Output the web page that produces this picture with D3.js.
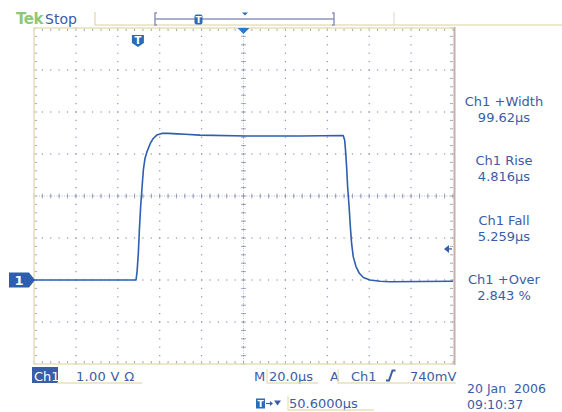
<!DOCTYPE html>
<html>
<head>
<meta charset="utf-8">
<script src="https://cdn.jsdelivr.net/npm/d3@7"></script>
<style>
  body { margin: 0; background: #fff; }
  text { font-family: "DejaVu Sans", sans-serif; }
</style>
</head>
<body>
<div id="scope"></div>
<script>
// trace: time in us from the left edge, volts on Ch1
var timeUs = [0, 48.7, 49.2, 49.8, 50.3, 50.9, 51.6, 52.2, 53.0, 53.9, 55.4, 56.9, 58.6,
  61.0, 64.1, 68.3, 72.1, 79.2, 101.7, 127.0, 147.6, 148.3, 148.8, 149.3, 149.7, 150.4,
  151.0, 151.6, 152.4, 153.7, 155.3, 157.2, 160.4, 165.2, 169.9, 200];
var voltsV = [0, 0, 0.20, 0.64, 1.19, 1.75, 2.22, 2.62, 2.90, 3.05, 3.24, 3.37, 3.45,
  3.49, 3.49, 3.48, 3.47, 3.45, 3.43, 3.43, 3.44, 3.33, 3.02, 2.62, 2.22, 1.75,
  1.27, 0.87, 0.55, 0.32, 0.16, 0.06, 0, -0.03, -0.04, -0.03];

var measNames = ["Ch1 +Width", "Ch1 Rise", "Ch1 Fall", "Ch1 +Over"];
var measValues = ["99.62\u00b5s", "4.816\u00b5s", "5.259\u00b5s", "2.843 %"];

var timeDiv = 20;      // us per division
var voltDiv = 1;       // V per division
var trigLevel = 0.74;  // V
var trigTime = 49.6;   // us

var W = 562, H = 412;
var blue = "#3b5ca6", trace = "#2d5eb0", beige = "#e9e1b9", dot = "#8a92b4";

var svg = d3.select("#scope").append("svg")
  .attr("width", W).attr("height", H);

var x = d3.scaleLinear().domain([0, 10 * timeDiv]).range([34, 453]);
var y = d3.scaleLinear().domain([-2 * voltDiv, 6 * voltDiv]).range([364, 28]);

var majX = d3.range(0, 10 * timeDiv + 0.01, timeDiv);
var majY = d3.range(-2, 6.01, voltDiv);
var minX = d3.range(0, 10 * timeDiv + 0.01, timeDiv / 5);
var minY = d3.range(-2, 6.01, voltDiv / 5);
var cx = 5 * timeDiv, cy = 2;

var grid = svg.append("g");

// dotted grid lines
majX.slice(1, -1).forEach(function (t) {
  grid.selectAll(null).data(minY).enter().append("rect")
    .attr("x", x(t) - 0.6).attr("y", function (v) { return y(v) - 0.6; })
    .attr("width", 1.2).attr("height", 1.2).attr("fill", dot);
});
majY.slice(1, -1).forEach(function (v) {
  grid.selectAll(null).data(minX).enter().append("rect")
    .attr("x", function (t) { return x(t) - 0.6; }).attr("y", y(v) - 0.6)
    .attr("width", 1.2).attr("height", 1.2).attr("fill", dot);
});

// centre cross with minor ticks
grid.selectAll(null).data(minY).enter().append("line")
  .attr("x1", x(cx) - 2.5).attr("x2", x(cx) + 2.5)
  .attr("y1", function (v) { return y(v); }).attr("y2", function (v) { return y(v); })
  .attr("stroke", dot).attr("stroke-width", 0.8);
grid.selectAll(null).data(minX).enter().append("line")
  .attr("y1", y(cy) - 2.5).attr("y2", y(cy) + 2.5)
  .attr("x1", function (t) { return x(t); }).attr("x2", function (t) { return x(t); })
  .attr("stroke", dot).attr("stroke-width", 0.8);
grid.append("line").attr("x1", x(cx)).attr("x2", x(cx)).attr("y1", y(6)).attr("y2", y(-2))
  .attr("stroke", dot).attr("stroke-width", 0.6).attr("stroke-dasharray", "1,1.5");
grid.append("line").attr("y1", y(cy)).attr("y2", y(cy)).attr("x1", x(0)).attr("x2", x(200))
  .attr("stroke", dot).attr("stroke-width", 0.6).attr("stroke-dasharray", "1,1.5");

// border ticks
[y(6), y(-2)].forEach(function (yy, i) {
  var d = i === 0 ? 1 : -1;
  grid.selectAll(null).data(minX).enter().append("line")
    .attr("x1", function (t) { return x(t); }).attr("x2", function (t) { return x(t); })
    .attr("y1", yy).attr("y2", yy + d * 3)
    .attr("stroke", dot).attr("stroke-width", 0.8);
});
[x(0), x(200)].forEach(function (xx, i) {
  var d = i === 0 ? 1 : -1;
  grid.selectAll(null).data(minY).enter().append("line")
    .attr("y1", function (v) { return y(v); }).attr("y2", function (v) { return y(v); })
    .attr("x1", xx).attr("x2", xx + d * 3)
    .attr("stroke", dot).attr("stroke-width", 0.8);
});

// frame
grid.append("path")
  .attr("d", "M" + x(200) + "," + y(6) + "H" + x(0) + "V" + y(-2) + "H" + x(200))
  .attr("fill", "none").attr("stroke", beige).attr("stroke-width", 1.6);
grid.append("line").attr("x1", x(200) + 1.5).attr("x2", x(200) + 1.5)
  .attr("y1", y(6) - 1).attr("y2", y(-2) + 1)
  .attr("stroke", "#c9aea6").attr("stroke-width", 2);

// waveform
var line = d3.line()
  .x(function (d, i) { return x(timeUs[i]); })
  .y(function (d) { return y(d); });
svg.append("path").datum(voltsV)
  .attr("d", line).attr("fill", "none")
  .attr("stroke", trace).attr("stroke-width", 1.6).attr("stroke-linejoin", "round");

// header
svg.append("text").attr("x", 16).attr("y", 24).attr("font-size", 15).attr("font-weight", "bold")
  .attr("fill", "#8dc878").attr("letter-spacing", -0.5).text("Tek");
svg.append("text").attr("x", 45).attr("y", 24).attr("font-size", 14)
  .attr("fill", blue).text("Stop");
svg.append("path").attr("d", "M95,12V25H562").attr("fill", "none")
  .attr("stroke", beige).attr("stroke-width", 1.5);
svg.append("line").attr("x1", 394).attr("x2", 394).attr("y1", 12).attr("y2", 25)
  .attr("stroke", "#e3d3c8").attr("stroke-width", 1);
svg.append("path").attr("d", "M157,13H155V25H157M155,19H334M332,13H334V25H332")
  .attr("fill", "none").attr("stroke", "#8c96ba").attr("stroke-width", 1.5);
svg.append("rect").attr("x", 194.5).attr("y", 14.5).attr("width", 8).attr("height", 10)
  .attr("rx", 2).attr("fill", "#2b6cb8");
svg.append("text").attr("x", 198.5).attr("y", 23).attr("text-anchor", "middle")
  .attr("font-size", 9).attr("font-weight", "bold").attr("fill", "#fff").text("T");
svg.append("path").attr("d", "M242,12.5h6l-3,3z").attr("fill", "#2b6cb8");

// top marker and trigger position marker
svg.append("path").attr("d", "M" + (x(cx) - 6) + ",28h12l-6,6z").attr("fill", "#2b7cc8");
var tx = x(trigTime);
svg.append("path")
  .attr("d", "M" + (tx - 6) + ",35h12v8l-6,4l-6,-4z").attr("fill", "#2b6cb8");
svg.append("text").attr("x", tx).attr("y", 44).attr("text-anchor", "middle")
  .attr("font-size", 10).attr("font-weight", "bold").attr("fill", "#fff").text("T");

// ground marker
var gy = y(0);
svg.append("path")
  .attr("d", "M9," + (gy - 7.5) + "h20l6,7.5l-6,7.5h-20z").attr("fill", "#2d5fae");
svg.append("text").attr("x", 19).attr("y", gy + 5).attr("text-anchor", "middle")
  .attr("font-size", 13).attr("font-weight", "bold").attr("fill", "#fff").text("1");

// trigger level arrow
var ty = y(trigLevel);
svg.append("path").attr("d", "M444," + ty + "l5,-4v8z").attr("fill", blue);
svg.append("line").attr("x1", 447).attr("x2", 452).attr("y1", ty).attr("y2", ty)
  .attr("stroke", blue).attr("stroke-width", 1.3);

// measurements
var meas = svg.append("g").attr("fill", blue).attr("font-size", 13).attr("text-anchor", "middle");
measNames.forEach(function (n, i) {
  meas.append("text").attr("x", 504).attr("y", 106 + i * 59.3).text(n);
  meas.append("text").attr("x", 504).attr("y", 122 + i * 59.3).text(measValues[i]);
});

// status line
var st = svg.append("g").attr("fill", blue).attr("font-size", 13);
st.append("rect").attr("x", 32).attr("y", 367).attr("width", 26).attr("height", 16).attr("fill", blue);
st.append("text").attr("x", 34).attr("y", 381).attr("fill", "#fff").text("Ch1");
st.append("text").attr("x", 76).attr("y", 381).attr("letter-spacing", 0.3)
  .text("1.00 V \u03a9");
st.append("text").attr("x", 254).attr("y", 381).text("M");
st.append("text").attr("x", 269).attr("y", 381).text(timeDiv.toFixed(1) + "\u00b5s");
st.append("text").attr("x", 330).attr("y", 381).text("A");
st.append("text").attr("x", 351).attr("y", 381).text("Ch1");
st.append("text").attr("x", 410).attr("y", 381).text(Math.round(trigLevel * 1000) + "mV");
st.append("path").attr("d", "M386,380.5h3l3.5,-10h3").attr("fill", "none")
  .attr("stroke", blue).attr("stroke-width", 2);
svg.append("path").attr("d", "M57,383H142M267,369V383H318M338,369V383H456")
  .attr("fill", "none").attr("stroke", beige).attr("stroke-width", 1.3);

st.append("rect").attr("x", 256).attr("y", 398.5).attr("width", 9).attr("height", 10).attr("fill", "#2b6cb8");
st.append("text").attr("x", 260.5).attr("y", 407).attr("text-anchor", "middle")
  .attr("font-size", 9).attr("font-weight", "bold").attr("fill", "#fff").text("T");
st.append("path").attr("d", "M266,403.5h5").attr("stroke", blue).attr("stroke-width", 1.2);
st.append("path").attr("d", "M270,401l3,2.5l-3,2.5z");
st.append("path").attr("d", "M274,400.5h7l-3.5,5z");
st.append("text").attr("x", 289).attr("y", 408).text("50.6000\u00b5s");
svg.append("path").attr("d", "M288,396V410H374").attr("fill", "none")
  .attr("stroke", beige).attr("stroke-width", 1.3);

st.append("text").attr("x", 467).attr("y", 393).attr("font-size", 12.5)
  .attr("xml:space", "preserve").text("20 Jan  2006");
st.append("text").attr("x", 467).attr("y", 408.5).attr("font-size", 12.5).text("09:10:37");
</script>
</body>
</html>
